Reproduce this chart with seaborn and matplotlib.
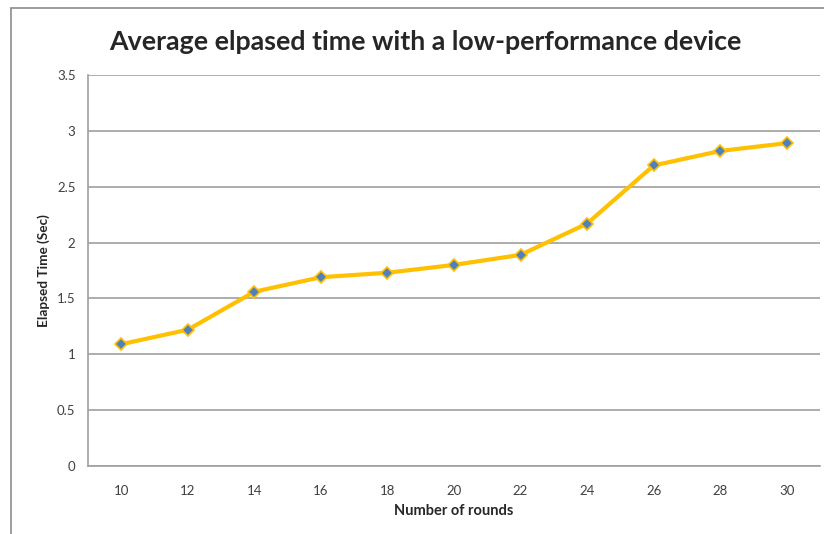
import matplotlib
matplotlib.use("Agg")
import matplotlib.pyplot as plt
import seaborn as sns
import pandas as pd
from matplotlib.lines import Line2D

# data
rounds = ["10", "12", "14", "16", "18", "20", "22", "24", "26", "28", "30"]
elapsed = [1.09, 1.22, 1.56, 1.69, 1.73, 1.80, 1.89, 2.17, 2.69, 2.82, 2.89]
y_ticks = [0, 0.5, 1, 1.5, 2, 2.5, 3, 3.5]
y_labels = ["0", "0.5", "1", "1.5", "2", "2.5", "3", "3.5"]

df = pd.DataFrame({"Number of rounds": rounds, "Elapsed Time (Sec)": elapsed})

sns.set_style("white")
plt.rcParams["font.family"] = ["Lato", "DejaVu Sans"]

fig = plt.figure(figsize=(8.24, 5.34), dpi=100)
ax = fig.add_axes([88 / 824, 68 / 534, 732 / 824, 391 / 534])

# gridlines behind the line
for v in y_ticks:
    ax.axhline(v, color="#a0a0a0", linewidth=1.2, zorder=0)

sns.lineplot(data=df, x="Number of rounds", y="Elapsed Time (Sec)", sort=False,
             color="#FFC000", linewidth=3, marker="D", markersize=6.5,
             markerfacecolor="#4F81BD", markeredgecolor="#FFC000",
             markeredgewidth=1.2, ax=ax, zorder=3)

ax.set_xlim(-0.5, len(rounds) - 0.5)
ax.set_ylim(0, 3.5)
ax.set_yticks(y_ticks)
ax.set_yticklabels(y_labels)
# x ticks sit between categories
ax.set_xticks(range(len(rounds)))
ax.set_xticklabels(rounds)
ax.set_xticks([i - 0.5 for i in range(len(rounds) + 1)], minor=True)
ax.tick_params(axis="x", which="major", length=0, pad=14, labelsize=9.5, colors="#404040")
ax.tick_params(axis="x", which="minor", length=5, width=1, color="#a0a0a0", direction="out")
ax.tick_params(axis="y", which="major", length=5, width=1, color="#a0a0a0", direction="out",
               pad=4, labelsize=9.5, labelcolor="#404040")

for s in ["top", "right"]:
    ax.spines[s].set_visible(False)
for s in ["left", "bottom"]:
    ax.spines[s].set_color("#a0a0a0")
    ax.spines[s].set_linewidth(1.2)

ax.set_xlabel("Number of rounds", fontsize=10.5, fontweight="bold", labelpad=5)
ax.set_ylabel("Elapsed Time (Sec)", fontsize=9.8, fontweight="bold", labelpad=5)

fig.text(425 / 824, 1 - 42 / 534, "Average elpased time with a low-performance device",
         ha="center", va="center", fontsize=19.3, fontweight="bold")

# chart frame (left and top edges visible)
fig.add_artist(Line2D([11 / 824, 11 / 824], [0, 1 - 8 / 534], color="#8c8c8c", linewidth=1.2,
                      transform=fig.transFigure))
fig.add_artist(Line2D([11 / 824, 1], [1 - 8 / 534, 1 - 8 / 534], color="#8c8c8c", linewidth=1.2,
                      transform=fig.transFigure))

fig.savefig("out.png", dpi=100)
